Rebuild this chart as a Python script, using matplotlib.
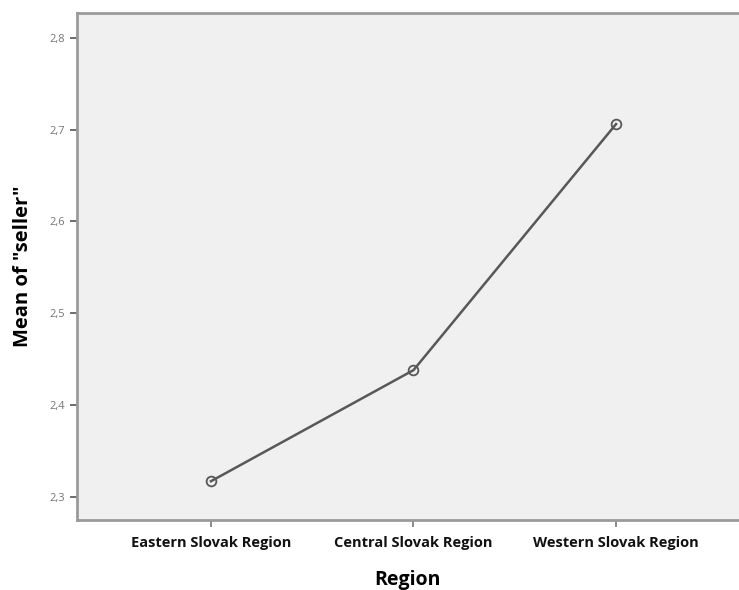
import matplotlib
matplotlib.use("Agg")
import matplotlib.pyplot as plt
from matplotlib.ticker import FuncFormatter

regions = ["Eastern Slovak Region", "Central Slovak Region", "Western Slovak Region"]
means = [2.317, 2.438, 2.706]
yticks = [2.3, 2.4, 2.5, 2.6, 2.7, 2.8]

plt.rcParams['font.family'] = ['Open Sans', 'DejaVu Sans']

fig = plt.figure(figsize=(7.39, 5.9), dpi=100)
ax = fig.add_axes([0.104, 0.119, 0.896, 0.859])
ax.set_facecolor('#f0f0f0')

x = list(range(len(regions)))
ax.plot(x, means, color='#585858', lw=1.8, marker='o', markersize=7,
        markerfacecolor='none', markeredgecolor='#585858', markeredgewidth=1.3)

ax.set_xlim(-0.662, 2.607)
ax.set_ylim(2.275, 2.827)
ax.set_xticks(x)
ax.set_xticklabels(regions, fontsize=10.5, fontweight='bold', color='#111111')
ax.set_yticks(yticks)
ax.yaxis.set_major_formatter(FuncFormatter(lambda v, p: f"{v:.1f}".replace('.', ',')))
ax.tick_params(axis='y', labelsize=8, labelcolor='#777777', color='#555555', length=5, width=1.2)
ax.tick_params(axis='x', color='#777777', length=5, width=1.2, pad=7)

for s in ['left', 'bottom', 'top']:
    ax.spines[s].set_color('#9a9a9a')
    ax.spines[s].set_linewidth(2)
ax.spines['right'].set_visible(False)

ax.set_xlabel('Region', fontsize=14, fontweight='bold', labelpad=14)
ax.set_ylabel('Mean of "seller"', fontsize=14.5, fontweight='bold', labelpad=12)

fig.savefig('out.png', dpi=100)
